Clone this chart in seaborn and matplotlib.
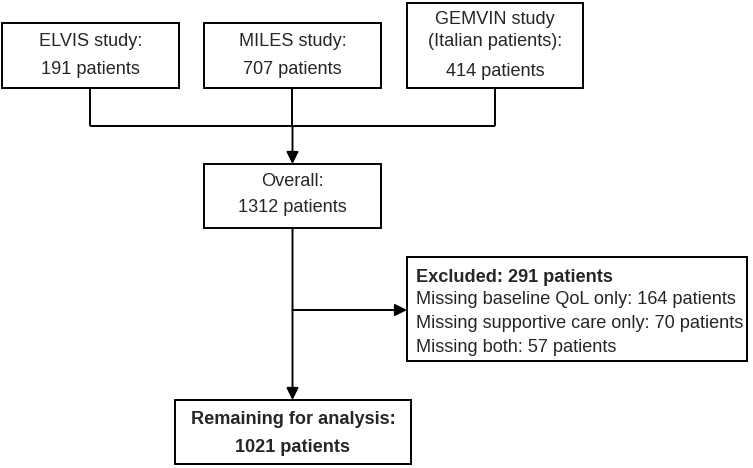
import matplotlib
matplotlib.use("Agg")
import matplotlib.pyplot as plt
from matplotlib.patches import Rectangle
import seaborn as sns

# box texts
study_names = ["ELVIS study:", "MILES study:", "GEMVIN study\n(Italian patients):"]
study_counts = [191, 707, 414]
overall_count = 1312
excluded_total = 291
excluded_labels = ["Missing baseline QoL only", "Missing supportive care only", "Missing both"]
excluded_counts = [164, 70, 57]
remaining_count = 1021

sns.set_theme(style="white")
plt.rcParams["font.family"] = ["Liberation Sans", "DejaVu Sans"]

fig = plt.figure(figsize=(7.53, 4.68), dpi=100)
ax = fig.add_axes([0, 0, 1, 1])
ax.set_xlim(0, 753)
ax.set_ylim(468, 0)
ax.axis("off")

lw = 1.4
fs = 13.1


def box(x0, y0, x1, y1):
    ax.add_patch(Rectangle((x0, y0), x1 - x0, y1 - y0, fill=False,
                           edgecolor="black", linewidth=lw))


def line(xs, ys):
    ax.plot(xs, ys, color="black", linewidth=lw, solid_capstyle="butt")


def arrow(x0, y0, x1, y1):
    ax.annotate("", xy=(x1, y1), xytext=(x0, y0),
                arrowprops=dict(arrowstyle="-|>,head_length=0.6,head_width=0.3",
                                color="black", lw=lw, shrinkA=0, shrinkB=0,
                                mutation_scale=12))


# study boxes
study_boxes = [(2, 23, 179, 88), (204, 23, 381, 88), (407, 3, 583, 88)]
name_y = [[42], [42], [20, 41]]
count_y = [70, 70, 72]
for (x0, y0, x1, y1), name, n, ny, cy in zip(study_boxes, study_names, study_counts, name_y, count_y):
    box(x0, y0, x1, y1)
    cx = (x0 + x1) / 2
    for txt, yy in zip(name.split("\n"), ny):
        ax.text(cx, yy, txt, ha="center", va="center", fontsize=fs)
    ax.text(cx, cy, f"{n} patients", ha="center", va="center", fontsize=fs)
    line([cx, cx], [y1, 126])

line([90.5, 495], [126, 126])
arrow(292.5, 126, 292.5, 164)

# overall
box(204, 164, 381, 228)
ax.text(292.5, 182, "Overall:", ha="center", va="center", fontsize=fs)
ax.text(292.5, 208, f"{overall_count} patients", ha="center", va="center", fontsize=fs)

# main trunk to remaining
arrow(292.5, 228, 292.5, 400)
arrow(292.5, 310, 407, 310)

# excluded box
box(407, 257, 747, 361)
ax.text(416, 277, f"Excluded: {excluded_total} patients", ha="left", va="center",
        fontsize=fs, fontweight="bold")
for i, (lab, n) in enumerate(zip(excluded_labels, excluded_counts)):
    ax.text(416, 300 + i * 24, f"{lab}: {n} patients", ha="left", va="center", fontsize=fs)

# remaining box
box(175, 400, 411, 464)
ax.text(293, 420, "Remaining for analysis:", ha="center", va="center",
        fontsize=fs, fontweight="bold")
ax.text(293, 447, f"{remaining_count} patients", ha="center", va="center",
        fontsize=fs, fontweight="bold")

fig.savefig("out.png", dpi=100, facecolor="white")
